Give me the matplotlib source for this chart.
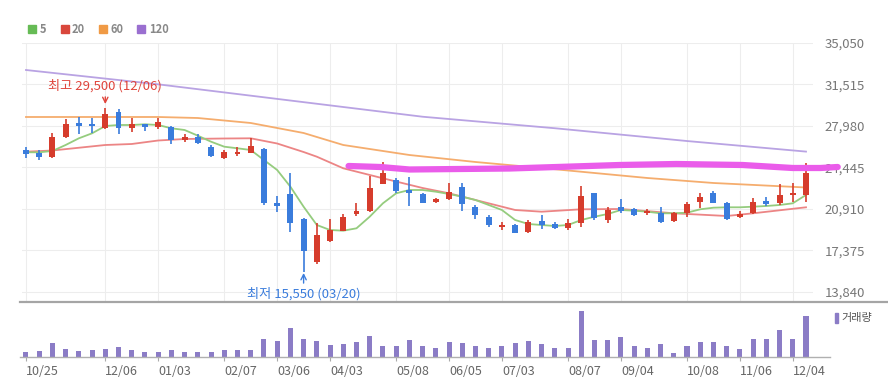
import matplotlib
matplotlib.use('Agg')
import matplotlib.pyplot as plt
from matplotlib.patches import Rectangle
from matplotlib.lines import Line2D

plt.rcParams['font.family'] = ['Noto Sans CJK KR', 'DejaVu Sans']

# weekly candles, index 0 = week of 10/25
opens = [25950, 25700, 25340, 27040, 28200, 28150, 27810, 29170, 27810, 28150,
         27900, 27900, 26790, 27040, 26190, 25250, 25600, 25680, 26020, 21420,
         22190, 20060, 16400, 18190, 19050, 20480, 20740, 23040, 23380, 22530,
         22190, 21500, 21760, 22780, 21080, 20230, 19380, 19550, 18950, 19890,
         19630, 19300, 19720, 22270, 19970, 21080, 20910, 20570, 20570, 19890,
         20570, 21480, 22270, 21450, 20260, 20540, 21610, 21400, 22100, 22100]
highs = [26200, 25950, 27380, 28580, 28750, 28660, 29500, 29430, 28660, 28150,
         28660, 27980, 27300, 27300, 26360, 25940, 26190, 26960, 26110, 22020,
         23980, 20140, 19720, 20060, 20480, 21420, 23720, 24910, 23550, 23640,
         22270, 21850, 23130, 23130, 21250, 20400, 19800, 19630, 19970, 20400,
         19800, 20060, 22870, 22270, 21080, 21760, 21000, 20910, 21120, 20690,
         21540, 22270, 22470, 21540, 20740, 21820, 21960, 23010, 23100, 24800]
lows = [25250, 25100, 25250, 26960, 27300, 27380, 27750, 27300, 27470, 27560,
        27720, 26450, 26620, 26450, 25340, 25170, 25430, 25680, 21250, 20650,
        18950, 15550, 16230, 18100, 19050, 20310, 20650, 23040, 22270, 21160,
        21420, 21420, 21670, 20740, 20060, 19380, 19120, 18870, 18870, 19210,
        19210, 19120, 19380, 19970, 19720, 20570, 20310, 20400, 19720, 19800,
        20270, 21000, 21380, 19970, 20110, 20460, 21160, 21250, 21530, 21530]
closes = [25600, 25350, 27040, 28150, 27980, 27980, 29000, 27810, 28150, 27900,
          28320, 26790, 27040, 26530, 25430, 25770, 25770, 26280, 21420, 21160,
          19720, 17330, 18700, 19120, 20230, 20740, 22700, 23980, 22440, 22270,
          21420, 21760, 22360, 21330, 20400, 19550, 19550, 18870, 19800, 19550,
          19300, 19720, 22020, 20140, 20820, 20740, 20400, 20700, 19800, 20600,
          21330, 21960, 21420, 20030, 20480, 21530, 21330, 22100, 22300, 23950]
volumes = [47, 60, 137, 83, 60, 70, 83, 97, 70, 47,
           47, 70, 47, 47, 47, 70, 70, 70, 180, 160,
           287, 180, 160, 120, 133, 147, 210, 107, 107, 170,
           107, 93, 147, 137, 110, 93, 110, 137, 160, 127,
           93, 93, 460, 170, 170, 197, 110, 93, 127, 37,
           110, 147, 147, 110, 83, 180, 180, 270, 180, 410]  # thousand shares

ma5 = [25740, 25740, 25851, 26362, 26932, 27358, 27980, 28065, 28065, 28125,
       28065, 27784, 27639, 27154, 26643, 26217, 26081, 25936, 25084, 24232,
       22810, 21106, 19547, 19121, 19062, 19266, 20254, 21396, 22247, 22529,
       22529, 22384, 22188, 21958, 21677, 21251, 20825, 19973, 19632, 19547,
       19462, 19547, 19973, 20254, 20484, 20825, 20765, 20680, 20544, 20544,
       20595, 20885, 21021, 21055, 21055, 21106, 21166, 21251, 21396, 22103]
ma20_idx = [0, 2, 6, 8, 10, 12, 15, 17, 19, 21, 22, 24, 27, 30, 32, 34, 37, 39, 42, 45, 49, 53, 55, 59]
ma20_val = [25791, 25893, 26362, 26447, 26745, 26873, 26915, 26932, 26490, 25765, 25365, 24377,
            23525, 22699, 22247, 21677, 20825, 20680, 20885, 20910, 20544, 20314, 20544, 21055]
ma60_idx = [0, 10, 13, 17, 19, 21, 24, 29, 34, 39, 43, 47, 52, 59]
ma60_val = [28747, 28747, 28661, 28236, 27810, 27384, 26362, 25510, 24914, 24403, 23977, 23551, 23125, 22742]
ma120_idx = [0, 10, 20, 30, 40, 50, 59]
ma120_val = [32750, 31530, 30150, 28770, 27790, 26700, 25800]

# hand-drawn marker line
pink_idx = [24.4, 26.8, 29.0, 36.6, 44.9, 49.2, 54.2, 58.0, 60.1, 61.4]
pink_val = [24573, 24488, 24275, 24360, 24658, 24743, 24658, 24403, 24403, 24488]

price_ticks = [13840, 17375, 20910, 24445, 27980, 31515, 35050]
tick_idx = [0, 6, 10, 15, 19, 23, 28, 32, 36, 41, 45, 50, 54, 58]
tick_labels = ['10/25', '12/06', '01/03', '02/07', '03/06', '04/03', '05/08',
               '06/05', '07/03', '08/07', '09/04', '10/08', '11/06', '12/04']

UP = '#d63c2c'
DOWN = '#3a7cdc'

W, H = 888, 386
fig = plt.figure(figsize=(W / 100, H / 100), dpi=100)
ax = fig.add_axes([22 / W, (H - 302) / H, 791 / W, 259 / H])
axv = fig.add_axes([22 / W, (H - 357) / H, 791 / W, 52 / H])

xs = list(range(len(closes)))
for i in xs:
    o, c = opens[i], closes[i]
    col = UP if c >= o else DOWN
    ax.vlines(i, lows[i], highs[i], color=col, lw=1.2, zorder=3)
    ax.bar(i, max(abs(c - o), 130), bottom=min(o, c) if abs(c - o) >= 130 else (o + c) / 2 - 65,
           width=0.45, color=col, zorder=3)

ax.plot(ma120_idx, ma120_val, color='#b9a3e3', lw=1.3, zorder=2)
ax.plot(ma60_idx, ma60_val, color='#f5ad6e', lw=1.3, zorder=2)
ax.plot(ma20_idx, ma20_val, color='#ec8585', lw=1.3, zorder=2)
ax.plot(xs, ma5, color='#95cc7e', lw=1.3, zorder=2)

ax.plot(pink_idx, pink_val, color='#ea5cea', lw=4.5, solid_capstyle='round',
        clip_on=False, zorder=6)

ax.annotate('최고 29,500 (12/06)', xy=(6, 29850), xytext=(6, 31387),
            ha='center', va='center', color='#e0453c', fontsize=9.5,
            arrowprops=dict(arrowstyle='->', color='#e0453c', lw=1, shrinkA=1, shrinkB=0))
ax.annotate('최저 15,550 (03/20)', xy=(21, 15460), xytext=(21, 13670),
            ha='center', va='center', color='#3a7cdc', fontsize=9.5,
            arrowprops=dict(arrowstyle='->', color='#3a7cdc', lw=1, shrinkA=1, shrinkB=0))

ax.set_xlim(-0.3, 59.53)
ax.set_ylim(12988, 35050)
ax.set_yticks(price_ticks)
ax.set_yticklabels([f'{v:,}' for v in price_ticks])
ax.set_xticks(tick_idx)
ax.grid(color='#ededed', lw=0.8)
ax.set_axisbelow(True)
ax.tick_params(axis='y', left=False, right=False, labelleft=False, labelright=True,
               pad=5, labelsize=9.5, labelcolor='#777777')
ax.tick_params(axis='x', length=0, labelbottom=False)
for s in ax.spines.values():
    s.set_visible(False)

axv.bar(xs, [v * 1000 for v in volumes], width=0.38, color='#8b7cc6')
axv.set_xlim(-0.3, 59.53)
axv.set_ylim(0, 520000)
axv.set_yticks([])
axv.set_xticks(tick_idx)
axv.set_xticklabels(tick_labels)
for lab in axv.get_xticklabels():
    lab.set_ha('left')
axv.tick_params(axis='x', length=3, color='#aaaaaa', labelsize=9, labelcolor='#666666', pad=3)
for s in axv.spines.values():
    s.set_visible(False)

# panel divider and volume baseline
fig.add_artist(Line2D([20 / W, 1], [(H - 302) / H] * 2, color='#a5a5a5', lw=1.6))
fig.add_artist(Line2D([20 / W, 830 / W], [(H - 357) / H] * 2, color='#b0b0b0', lw=1))

# moving-average legend
legend_items = [('5', '#66bb55', 28, 40), ('20', '#d9473c', 61, 72),
                ('60', '#f09a45', 99, 110), ('120', '#9a6fd0', 137, 149)]
for lab, col, bx, tx in legend_items:
    fig.add_artist(Rectangle((bx / W, (H - 33) / H), 8 / W, 8 / H, color=col,
                             transform=fig.transFigure))
    fig.text(tx / W, (H - 29.5) / H, lab, fontsize=8, weight='bold', color='#888888',
             va='center', ha='left')

fig.add_artist(Rectangle((835 / W, (H - 323) / H), 3 / W, 10 / H, color='#8b7cc6',
                         transform=fig.transFigure))
fig.text(841 / W, (H - 318) / H, '거래량', fontsize=8, color='#555555', va='center', ha='left')

fig.savefig('out.png', dpi=100)
